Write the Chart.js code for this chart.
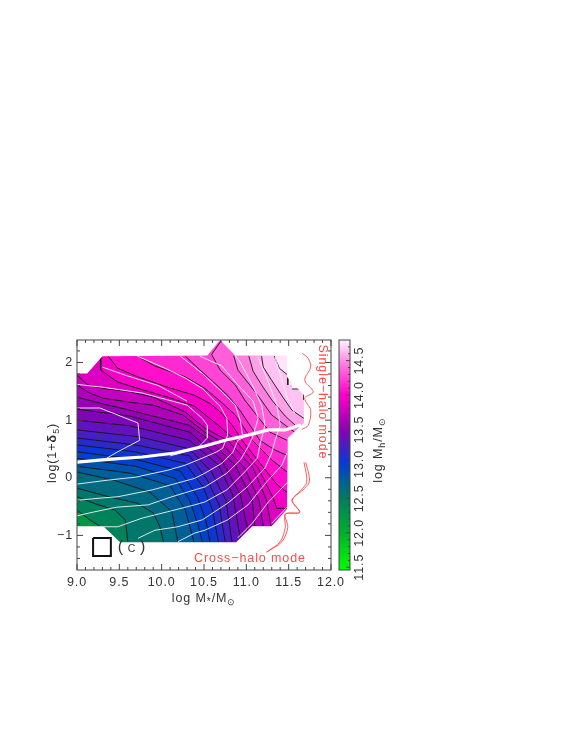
<!DOCTYPE html>
<html>
<head>
<meta charset="utf-8">
<title>halo mass map</title>
<script src="https://cdn.jsdelivr.net/npm/chart.js@4/dist/chart.umd.min.js"></script>
<style>
  html, body { margin: 0; padding: 0; background: #fff; }
  canvas { position: absolute; left: 0; top: 0; }
</style>
</head>
<body>
<canvas id="chart1" width="566" height="733"></canvas>
<canvas id="chart2" width="566" height="733"></canvas>
<script>
// axis ticks
const xLabelTicks = [9, 9.5, 10, 10.5, 11, 11.5, 12];
const xMinorTicks = [9.1,9.2,9.3,9.4,9.6,9.7,9.8,9.9,10.1,10.2,10.3,10.4,10.6,10.7,10.8,10.9,11.1,11.2,11.3,11.4,11.6,11.7,11.8,11.9];
const yLabelTicks = [-1, 0, 1, 2];
const yMinorTicks = [-1.4,-1.2,-0.8,-0.6,-0.4,-0.2,0.2,0.4,0.6,0.8,1.2,1.4,1.6,1.8,2.2];
const barLabelTicks = [11.5, 12, 12.5, 13, 13.5, 14, 14.5];
const barMinorTicks = [11.6,11.7,11.8,11.9,12.1,12.2,12.3,12.4,12.6,12.7,12.8,12.9,13.1,13.2,13.3,13.4,13.6,13.7,13.8,13.9,14.1,14.2,14.3,14.4,14.6,14.7];
const barRange = [11.46, 14.8];

// colour table: log Mh, r, g, b
const colorStops = [
  [11.46, 0, 255, 0],
  [12.0, 0, 175, 45],
  [12.5, 0, 125, 95],
  [12.75, 0, 95, 150],
  [13.0, 0, 60, 215],
  [13.25, 70, 30, 195],
  [13.5, 140, 0, 180],
  [14.0, 255, 0, 200],
  [14.4, 255, 110, 220],
  [14.8, 255, 245, 255]
];

// black contours of log Mh, x,y pairs
const baseLevel = 12.2;
const contourLevels = [12.4,12.5,12.6,12.7,12.8,12.9,13.0,13.1,13.2,13.3,13.4,13.5,13.6,13.7,13.8,13.9,14.0,14.1,14.2,14.3,14.4,14.5,14.6,14.7,14.8];
const blackContours = [
  [9,-.56, 9.15,-.73, 9.27,-.84],
  [9,-.33, 9.25,-.47, 9.45,-.56, 9.57,-.73, 9.60,-1.11],
  [9,-.18, 9.35,-.32, 9.71,-.44, 9.90,-.61, 9.98,-.85, 10.02,-1.11],
  [9,.10, 9.43,-.04, 9.86,-.25, 10.12,-.59, 10.19,-1.11],
  [9,.20, 9.63,.08, 10.10,-.14, 10.28,-.56, 10.38,-1.11],
  [9,.34, 9.69,.20, 10.16,-.01, 10.33,-.39, 10.43,-.82, 10.48,-1.11],
  [9,.45, 9.69,.32, 10.22,.12, 10.42,-.33, 10.52,-.73, 10.57,-1.11],
  [9,.57, 9.69,.45, 10.28,.25, 10.49,-.16, 10.60,-.56, 10.67,-1.11],
  [9,.69, 9.69,.57, 10.33,.38, 10.54,-.04, 10.68,-.47, 10.75,-1.11],
  [9,.83, 9.74,.71, 10.33,.50, 10.59,.10, 10.76,-.39, 10.83,-1.11],
  [9,1.00, 9.63,.90, 10.33,.65, 10.67,.22, 10.84,-.30, 10.93,-1.06],
  [9,1.19, 9.63,1.07, 10.33,.79, 10.71,.31, 10.93,-.30, 11.02,-.92],
  [9,1.40, 9.31,1.28, 9.63,1.17, 9.90,1.07, 10.33,.91, 10.57,.65, 10.87,.22, 11.07,-.39, 11.10,-.84],
  [9,1.61, 9.15,1.47, 9.31,1.38, 9.63,1.31, 9.90,1.26, 10.25,1.09, 10.51,.79, 10.67,.65, 10.98,.17, 11.15,-.39, 11.20,-.84],
  [9,1.78, 9.13,1.61, 9.31,1.55, 9.63,1.49, 9.90,1.40, 10.28,1.14, 10.51,.86, 10.78,.65, 11.08,.17, 11.24,-.39, 11.29,-.84],
  [9.28,2.11, 9.28,1.87, 9.48,1.66, 9.72,1.55, 10.07,1.40, 10.39,1.24, 10.67,.91, 10.87,.65, 11.14,.17, 11.31,-.33, 11.36,-.53, 11.48,-.53],
  [9.37,2.11, 9.48,1.90, 9.72,1.75, 10.07,1.57, 10.39,1.43, 10.57,1.29, 10.71,1.12, 10.84,.90, 10.95,.65, 11.18,.22, 11.37,-.13, 11.48,-.25],
  [9.71,2.11, 9.92,1.94, 10.28,1.75, 10.51,1.55, 10.69,1.33, 10.87,1.09, 11.07,.65, 11.30,.31, 11.48,.10],
  [10.28,2.11, 10.43,1.90, 10.59,1.69, 10.78,1.43, 10.93,1.16, 11.16,.65, 11.34,.48, 11.48,.39],
  [10.71,2.39, 10.59,2.14, 10.69,1.87, 10.87,1.61, 10.98,1.35, 11.13,1.07, 11.28,.79, 11.48,.65],
  [10.85,2.12, 10.90,1.87, 11.04,1.61, 11.16,1.38, 11.30,1.09, 11.57,.79],
  [11.03,2.11, 11.08,1.85, 11.18,1.61, 11.30,1.35, 11.46,1.07, 11.60,.88],
  [11.18,2.11, 11.20,1.92, 11.30,1.69, 11.43,1.40, 11.54,1.17, 11.68,1.03],
  [11.33,2.11, 11.39,1.90, 11.49,1.78, 11.49,1.61],
  [11.54,1.54, 11.68,1.54, 11.68,1.35]
];

// white contours
const whiteContours = [
  [9.71,2.11, 10.04,1.90, 10.28,1.73, 10.48,1.55, 10.69,1.24, 10.77,1.03, 10.78,.74, 10.72,.51, 10.65,.45, 10.48,.34, 10.28,.22, 10.07,.13, 9.69,.01, 9.37,-.04, 9,-.11],
  [9.30,1.92, 9.57,1.78, 9.96,1.60, 10.30,1.33],
  [9,1.62, 9.31,1.57, 9.77,1.47, 10.30,1.26, 10.48,1.03, 10.54,.91, 10.54,.69, 10.42,.51, 10.28,.45, 10.10,.38],
  [9,1.21, 9.27,1.21, 9.72,.95, 9.74,.65, 9.48,.45, 9.35,.34],
  [10.22,2.11, 10.48,1.81, 10.69,1.52, 10.87,1.26, 10.93,.98, 10.96,.69, 10.90,.65, 10.84,.44, 10.71,.25, 10.51,.08, 10.39,-.01, 10.19,-.09, 9.89,-.21, 9.48,-.33, 9.30,-.35, 9,-.39],
  [10.45,2.11, 10.71,1.94, 10.90,1.61, 11.08,1.33, 11.14,1.03, 11.07,.69, 11.01,.51, 10.93,.31, 10.77,.08, 10.51,-.16, 10.39,-.21, 10.12,-.33, 9.84,-.47, 9.47,-.51, 9.21,-.59, 9,-.66],
  [10.87,2.12, 10.93,2.00, 11.07,1.61, 11.18,1.26, 11.22,.91, 11.16,.57, 11.13,.34, 10.98,.10, 10.77,-.21, 10.51,-.42, 10.39,-.47, 10.07,-.59, 9.77,-.70, 9.48,-.85, 9.31,-.85],
  [11.14,2.09, 11.26,1.66, 11.36,1.26, 11.40,.91, 11.34,.65, 11.30,.43, 11.22,.17, 11.01,-.16, 10.78,-.44, 10.48,-.73, 10.19,-.85, 9.92,-.91, 9.72,-1.05],
  [11.48,.43, 11.42,.22, 11.24,-.07, 11.02,-.47, 10.78,-.73, 10.51,-.91, 10.39,-.96, 10.19,-1.11],
  [11.48,-.09, 11.26,-.42, 11.07,-.79, 10.90,-1.04],
  [11.30,-.79, 11.48,-.51],
  [11.34,2.09, 11.48,1.40, 11.57,1.12]
];
const whiteThick = [9,.27, 9.37,.32, 9.77,.36, 10.16,.43, 10.51,.55, 10.75,.65, 11.02,.74, 11.26,.83, 11.46,.83, 11.63,.91];

// edge of the covered area
const outline = [9,1.81, 9.12,1.81, 9.30,2.11, 10.54,2.12, 10.69,2.39, 10.87,2.12, 11.48,2.12, 11.48,1.75, 11.68,1.43, 11.68,.95, 11.49,.69, 11.48,-.54, 11.30,-.84, 11.07,-.84, 10.88,-1.12, 9.51,-1.12, 9.31,-.84, 9,-.84];

const boxC = [9.19,-1.045, 9.40,-1.045, 9.40,-1.357, 9.19,-1.357, 9.19,-1.045];
const braceTop = [11.66,2.16, 11.73,2.07, 11.76,1.92, 11.69,1.69, 11.79,1.49, 11.69,1.38, 11.76,1.17, 11.73,.91, 11.66,.84];
const braceLow1 = [11.70,.27, 11.74,.05, 11.74,-.09, 11.67,-.21, 11.54,-.39, 11.63,-.60, 11.46,-.63, 11.49,-.86, 11.42,-1.11, 11.24,-1.29];
const braceLow2 = [11.68,.27, 11.71,.05, 11.71,-.09, 11.65,-.21, 11.54,-.39, 11.63,-.60, 11.46,-.63, 11.46,-.86, 11.40,-1.11, 11.24,-1.29];

const xMin = 9, xMax = 12, yMin = -1.6, yMax = 2.39;
const textColor = '#333', frameColor = '#444', red = '#ff4a4a';
const fontName = '"Liberation Sans", Arial, sans-serif';

function colorAt(v) {
  for (let i = 1; i < colorStops.length; i++) {
    const a = colorStops[i - 1], b = colorStops[i];
    if (v <= b[0]) {
      const t = Math.max(0, (v - a[0]) / (b[0] - a[0]));
      return `rgb(${[1, 2, 3].map(k => Math.round(a[k] + (b[k] - a[k]) * t)).join(',')})`;
    }
  }
  return 'rgb(255,245,255)';
}

function toPoints(flat) {
  const pts = [];
  for (let i = 0; i < flat.length; i += 2) pts.push({ x: flat[i], y: flat[i + 1] });
  return pts;
}

// everything above/right of a contour, mask takes care of the outside
function bandPoints(flat) {
  const pts = toPoints(flat);
  const first = pts[0], last = pts[pts.length - 1];
  if (last.x >= 11.4) pts.push({ x: xMax, y: last.y });
  else pts.push({ x: last.x, y: yMin }, { x: xMax, y: yMin });
  pts.push({ x: xMax, y: yMax }, { x: first.x, y: yMax });
  return pts;
}

const datasets = [];
let drawOrder = 1000;
function addLine(flat, color, width, extra) {
  datasets.push(Object.assign({
    data: toPoints(flat), showLine: true, borderColor: color, borderWidth: width,
    pointRadius: 0, fill: false, tension: 0, order: drawOrder--
  }, extra || {}));
}
function addShape(points, color) {
  datasets.push({
    data: points, showLine: true, borderWidth: 0, borderColor: color, backgroundColor: color,
    pointRadius: 0, fill: 'shape', tension: 0, order: drawOrder--
  });
}

addShape(toPoints([xMin, yMin, xMax, yMin, xMax, yMax, xMin, yMax]), colorAt(baseLevel + 0.05));
blackContours.forEach((c, i) => addShape(bandPoints(c), colorAt(contourLevels[i] + 0.05)));
blackContours.forEach(c => addLine(c, '#161616', 0.9));
whiteContours.forEach(c => addLine(c, 'rgba(255,255,255,0.85)', 1));
addLine(whiteThick, '#ffffff', 3.2, { borderCapStyle: 'round' });
addShape(toPoints(outline.concat([xMin, yMin, xMax, yMin, xMax, yMax, xMin, yMax])), '#ffffff');
addLine(boxC, '#111', 2, { borderJoinStyle: 'miter' });
addLine(braceTop, red, 0.9, { tension: 0.35 });
addLine(braceLow1, red, 0.9, { tension: 0.3 });
addLine(braceLow2, red, 0.9, { tension: 0.3 });

// segments: [text, size, baseline shift, bold]
function richText(ctx, x, y, rot, segs, color) {
  ctx.save();
  ctx.translate(x, y);
  ctx.rotate(rot);
  ctx.fillStyle = color;
  ctx.textAlign = 'left';
  ctx.textBaseline = 'alphabetic';
  let w = 0;
  segs.forEach(s => { ctx.font = `${s[3] ? 'bold ' : ''}${s[1]}px ${fontName}`; w += ctx.measureText(s[0]).width; });
  let pos = -w / 2;
  segs.forEach(s => {
    ctx.font = `${s[3] ? 'bold ' : ''}${s[1]}px ${fontName}`;
    ctx.fillText(s[0], pos, s[2]);
    pos += ctx.measureText(s[0]).width;
  });
  ctx.restore();
}

function tickMarks(ctx, list) {
  ctx.beginPath();
  list.forEach(t => { ctx.moveTo(t[0], t[1]); ctx.lineTo(t[2], t[3]); });
  ctx.stroke();
}

const spacing = {
  id: 'spacing',
  beforeDraw(chart) { chart.ctx.letterSpacing = '0.9px'; }
};

const frameAndText = {
  id: 'frameAndText',
  afterDraw(chart) {
    const { ctx, chartArea: a, scales: { x, y } } = chart;
    ctx.save();
    ctx.strokeStyle = frameColor;
    ctx.lineWidth = 1;
    ctx.strokeRect(a.left, a.top, a.right - a.left, a.bottom - a.top);
    const marks = [];
    xLabelTicks.forEach(v => { const p = x.getPixelForValue(v); marks.push([p, a.bottom, p, a.bottom - 6], [p, a.top, p, a.top + 6]); });
    xMinorTicks.forEach(v => { const p = x.getPixelForValue(v); marks.push([p, a.bottom, p, a.bottom - 3], [p, a.top, p, a.top + 3]); });
    yLabelTicks.forEach(v => { const p = y.getPixelForValue(v); marks.push([a.left, p, a.left + 6, p], [a.right, p, a.right - 6, p]); });
    yMinorTicks.forEach(v => { const p = y.getPixelForValue(v); marks.push([a.left, p, a.left + 3, p], [a.right, p, a.right - 3, p]); });
    tickMarks(ctx, marks);

    richText(ctx, 204, 602, 0, [['log M', 12.5, 0], ['*', 10, 3], ['/M', 12.5, 0], ['⊙', 9, 3]], textColor);
    richText(ctx, 56, 453, -Math.PI / 2, [['log(1+', 12.5, 0], ['δ', 13, 0, true], ['5', 9, 3], [')', 12.5, 0]], textColor);
    richText(ctx, 132, 552, 0, [['(', 16, 0], [' C ', 10.5, 0], [')', 16, 0]], textColor);
    richText(ctx, 250, 562, 0, [['Cross−halo mode', 12.5, 0]], red);
    richText(ctx, 319, 402, Math.PI / 2, [['Single−halo mode', 12.5, 0]], red);
    ctx.restore();
  }
};

new Chart(document.getElementById('chart1').getContext('2d'), {
  type: 'scatter',
  data: { datasets: datasets },
  options: {
    responsive: false,
    animation: false,
    layout: { padding: { left: 0, right: 235, top: 340, bottom: 0 } },
    plugins: { legend: { display: false }, tooltip: { enabled: false } },
    scales: {
      x: {
        type: 'linear', min: xMin, max: xMax,
        grid: { display: false, drawTicks: false }, border: { display: false },
        afterBuildTicks: s => { s.ticks = xLabelTicks.map(v => ({ value: v })); },
        afterFit: s => { s.height = 163; },
        ticks: {
          autoSkip: false, maxRotation: 0, padding: 5, color: textColor,
          font: { family: fontName, size: 12.5 },
          callback: v => v.toFixed(1)
        }
      },
      y: {
        type: 'linear', min: yMin, max: yMax,
        grid: { display: false, drawTicks: false }, border: { display: false },
        afterBuildTicks: s => { s.ticks = yLabelTicks.map(v => ({ value: v })); },
        afterFit: s => { s.width = 77; },
        ticks: {
          autoSkip: false, padding: 4, color: textColor,
          font: { family: fontName, size: 12.5 },
          callback: v => (v < 0 ? '−' + Math.abs(v) : String(v))
        }
      }
    }
  },
  plugins: [spacing, frameAndText]
});

// colour bar
const barFrame = {
  id: 'barFrame',
  afterDraw(chart) {
    const { ctx, chartArea: a, scales: { y } } = chart;
    ctx.save();
    ctx.strokeStyle = frameColor;
    ctx.lineWidth = 1;
    ctx.strokeRect(a.left, a.top, a.right - a.left, a.bottom - a.top);
    const marks = [];
    barLabelTicks.forEach(v => { const p = y.getPixelForValue(v); marks.push([a.right, p, a.right - 4, p]); });
    barMinorTicks.forEach(v => { const p = y.getPixelForValue(v); marks.push([a.right, p, a.right - 2, p]); });
    tickMarks(ctx, marks);
    barLabelTicks.forEach(v => richText(ctx, 363, y.getPixelForValue(v), -Math.PI / 2, [[v.toFixed(1), 12.5, 0]], textColor));
    richText(ctx, 382, 450, -Math.PI / 2, [['log M', 12.5, 0], ['h', 9, 3], ['/M', 12.5, 0], ['⊙', 9, 3]], textColor);
    ctx.restore();
  }
};

new Chart(document.getElementById('chart2').getContext('2d'), {
  type: 'bar',
  data: {
    labels: [''],
    datasets: [{
      data: [barRange],
      barPercentage: 1,
      categoryPercentage: 1,
      backgroundColor: c => {
        const chart = c.chart;
        if (!chart.chartArea) return '#000';
        const s = chart.scales.y;
        const g = chart.ctx.createLinearGradient(0, s.getPixelForValue(barRange[0]), 0, s.getPixelForValue(barRange[1]));
        colorStops.forEach(st => g.addColorStop((st[0] - barRange[0]) / (barRange[1] - barRange[0]), `rgb(${st[1]},${st[2]},${st[3]})`));
        return g;
      }
    }]
  },
  options: {
    responsive: false,
    animation: false,
    layout: { padding: { left: 339, right: 196, top: 340, bottom: 163 } },
    plugins: { legend: { display: false }, tooltip: { enabled: false } },
    scales: {
      x: { display: false },
      y: {
        position: 'right', min: barRange[0], max: barRange[1],
        grid: { display: false, drawTicks: false }, border: { display: false },
        afterBuildTicks: s => { s.ticks = barLabelTicks.map(v => ({ value: v })); },
        afterFit: s => { s.width = 20; },
        ticks: { display: false }
      }
    }
  },
  plugins: [spacing, barFrame]
});
</script>
</body>
</html>
